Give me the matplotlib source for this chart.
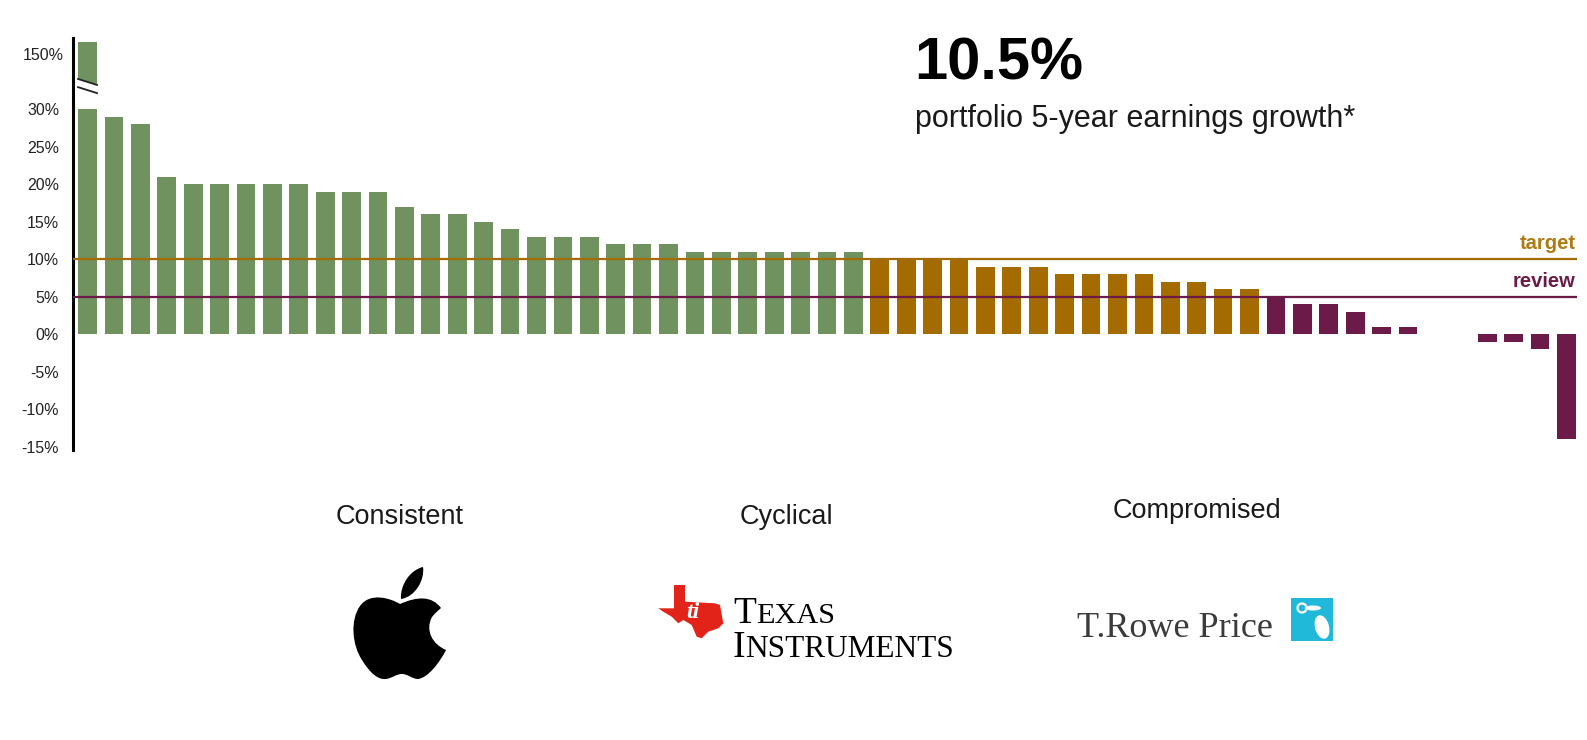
import numpy as np
import matplotlib
matplotlib.use("Agg")
import matplotlib.pyplot as plt
from matplotlib.path import Path
from matplotlib.patches import PathPatch, Polygon, Rectangle, Circle, Ellipse

plt.rcParams["font.family"] = ["Liberation Sans", "DejaVu Sans"]

# ── data: 5-year earnings growth per holding (%) ─────────────
consistent  = [155, 29, 28, 21, 20, 20, 20, 20, 20, 19, 19, 19, 17, 16, 16,
               15, 14, 13, 13, 13, 12, 12, 12, 11, 11, 11, 11, 11, 11, 11]
cyclical    = [10, 10, 10, 10, 9, 9, 9, 8, 8, 8, 8, 7, 7, 6, 6]
compromised = [5, 4, 4, 3, 1, 1, 0, 0, -1, -1, -2, -14]
target, review = 10, 5
portfolio_growth = "10.5%"
groups = ["Consistent", "Cyclical", "Compromised"]
low_ticks = [-15, -10, -5, 0, 5, 10, 15, 20, 25, 30]
high_ticks = [150]

C = {"green": "#6F925F", "orange": "#A46C00", "purple": "#6C1A47",
     "target_txt": "#B07A12", "ink": "#1A1A1A"}

values = np.array(consistent + cyclical + compromised, dtype=float)
colors = ([C["green"]] * len(consistent) + [C["orange"]] * len(cyclical)
          + [C["purple"]] * len(compromised))
x = np.arange(len(values))

W, H = 1587, 740
fig = plt.figure(figsize=(W / 100, H / 100), dpi=100)

def fig_rect(left, top, right, bottom):
    return [left / W, 1 - bottom / H, (right - left) / W, (bottom - top) / H]

# ── lower (main) axis ─────────────────────────────────────────
ax = fig.add_axes(fig_rect(73, 109.3, 1577, 449.8))
ax.bar(x, values, width=0.71, color=colors, linewidth=0)
ax.set_ylim(-15.4, 30)
ax.set_xlim(-0.55, 56.4)
ax.axhline(target, color=C["orange"], lw=1.6, zorder=3)
ax.axhline(review, color=C["purple"], lw=1.6, zorder=3)
ax.text(0.999, target + 0.8, "target", transform=ax.get_yaxis_transform(),
        ha="right", va="bottom", fontsize=14.5, fontweight="bold",
        color=C["target_txt"])
ax.text(0.999, review + 0.8, "review", transform=ax.get_yaxis_transform(),
        ha="right", va="bottom", fontsize=14.5, fontweight="bold",
        color=C["purple"])
ax.set_yticks(low_ticks)
ax.set_yticklabels([f"{t}%" for t in low_ticks])
ax.set_xticks([])

# ── upper (broken) axis for the outlier ───────────────────────
ax_top = fig.add_axes(fig_rect(73, 38, 1577, 109.3))
ax_top.bar(x, values, width=0.71, color=colors, linewidth=0)
ax_top.set_ylim(126.96, 156.67)
ax_top.set_xlim(-0.55, 56.4)
ax_top.set_yticks(high_ticks)
ax_top.set_yticklabels([f"{t}%" for t in high_ticks])
ax_top.set_xticks([])

for a, pad in ((ax, 10), (ax_top, 7)):
    for s in ("top", "right", "bottom"):
        a.spines[s].set_visible(False)
    a.spines["left"].set_linewidth(2.2)
    a.spines["left"].set_color("black")
    a.tick_params(axis="y", length=0, pad=pad, labelsize=11.5, labelcolor="#222222")
    a.patch.set_alpha(0)

# break marks on the first bar
ax_top.add_patch(Polygon([(-0.42, 139.8), (0.42, 136.9), (0.42, 126.96), (-0.42, 126.96)],
                         closed=True, facecolor="white", edgecolor="none", zorder=3))
ax_top.plot([-0.36, 0.36], [139.6, 137.1], color="#222222", lw=1.3, zorder=4)
ax_top.plot([-0.36, 0.36], [136.2, 133.7], color="#222222", lw=1.3, zorder=4)

# ── overlay in pixel coordinates for headline, labels and logos ──
ov = fig.add_axes([0, 0, 1, 1])
ov.set_xlim(0, W)
ov.set_ylim(H, 0)
ov.axis("off")
ov.patch.set_alpha(0)

ov.text(914, 80, portfolio_growth, fontsize=43, fontweight="bold",
        color="black", va="baseline", ha="left")
ov.text(915, 127, "portfolio 5-year earnings growth*", fontsize=22,
        color=C["ink"], va="baseline", ha="left")

for name, cx, base in zip(groups, [400, 786, 1197], [524, 524, 518]):
    ov.text(cx, base, name, fontsize=19.5, color=C["ink"], ha="center", va="baseline")

# Apple logo
apple = [(400, 604),
         (390, 598), (370, 592), (360, 606),
         (350, 620), (352, 645), (362, 660),
         (370, 673), (378, 680), (386, 679),
         (393, 678), (396, 674), (402, 674),
         (408, 674), (412, 679), (418, 679),
         (428, 678), (440, 662), (446, 650),
         (432, 644), (425, 630), (432, 617),
         (436, 612), (440, 609), (441, 608),
         (432, 596), (418, 596), (400, 604),
         (400, 604)]
codes = [Path.MOVETO] + [Path.CURVE4] * 27 + [Path.CLOSEPOLY]
ov.add_patch(PathPatch(Path(apple, codes), facecolor="black", edgecolor="none"))
leaf = [(401, 599), (400, 585), (410, 570), (423, 567),
        (425, 580), (415, 597), (401, 599), (401, 599)]
leaf_codes = [Path.MOVETO] + [Path.CURVE4] * 6 + [Path.CLOSEPOLY]
ov.add_patch(PathPatch(Path(leaf, leaf_codes), facecolor="black", edgecolor="none"))

# Texas Instruments logo
texas = [(674, 585), (685, 585), (685, 601.7), (715, 603.3), (720, 605),
         (723.3, 623.3), (718.3, 628.3), (708.3, 631.7), (701.7, 638.3),
         (696.7, 636.7), (691.7, 625), (683.3, 620), (678.3, 623.3),
         (671.7, 616.7), (663.3, 611.7), (658.3, 608.3), (674, 608.3)]
ov.add_patch(Polygon(texas, closed=True, facecolor="#E2231A", edgecolor="none"))
ov.text(693, 613, "ti", color="white", fontsize=17, fontweight="bold",
        fontstyle="italic", family="Liberation Serif", ha="center", va="center")

renderer = fig.canvas.get_renderer()

def small_caps(x0, base, big, rest, big_size, small_size):
    t = ov.text(x0, base, big, fontsize=big_size, family="Liberation Serif",
                color="black", va="baseline", ha="left")
    bb = t.get_window_extent(renderer)
    ov.text(bb.x1, base, rest, fontsize=small_size, family="Liberation Serif",
            color="black", va="baseline", ha="left")

small_caps(733, 623, "T", "EXAS", 27, 21.8)
small_caps(733, 657, "I", "NSTRUMENTS", 27, 22.5)

# T. Rowe Price logo
ov.text(1077, 637, "T.Rowe Price", fontsize=26, family="Liberation Serif",
        color="#3B3B3B", va="baseline", ha="left")
ov.add_patch(Rectangle((1291, 598), 42, 43, facecolor="#21B9DA", edgecolor="none"))
ov.add_patch(Circle((1302, 608), 4.5, facecolor="none", edgecolor="white", lw=1.6))
ov.add_patch(Ellipse((1322, 627), 14, 24, angle=-15, facecolor="white", edgecolor="none"))
ov.add_patch(Ellipse((1313, 608), 16, 5, facecolor="white", edgecolor="none"))

fig.savefig("out.png", dpi=100)
